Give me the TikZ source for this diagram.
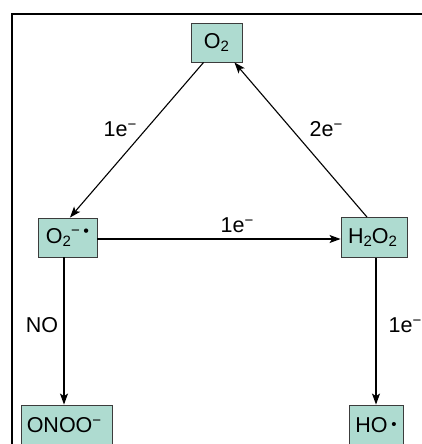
\documentclass[tikz,border=0pt]{standalone}
\usepackage{fontspec}
\setmainfont{Liberation Sans}
\usetikzlibrary{arrows.meta,calc}
\definecolor{boxfill}{RGB}{174,219,208}
\definecolor{boxline}{RGB}{60,60,60}
% raised minus sign for charges and electrons
\newcommand{\chemminus}{\raisebox{0.62ex}{\fontsize{15}{15}\selectfont\char"2212}}
\newcommand{\chemsub}[1]{\raisebox{-0.35ex}{\fontsize{15}{15}\selectfont #1}}
\tikzset{
  species/.style={draw=boxline, line width=0.9pt, fill=boxfill, inner sep=0pt,
    font=\fontsize{21.5}{25}\selectfont},
  rxn/.style={line width=1.1pt, -{Stealth[length=11pt,width=8pt,inset=2.5pt]}},
  elabel/.style={font=\fontsize{21.5}{25}\selectfont, inner sep=0pt}
}
\begin{document}
\begin{tikzpicture}[x=1pt,y=-1pt]
\useasboundingbox (0,0) rectangle (422,444);
% open frame along the top and left
\draw[line width=2.2pt] (12,460) -- (12,14) -- (440,14);

% species
\node[species, minimum width=51pt, minimum height=39pt] (o2) at (216.5,42.5) {O\chemsub{2}};
\node[species, minimum width=59pt, minimum height=39pt] (sup) at (67.5,237.5) {O\chemsub{2}\chemminus\,\raisebox{0.55ex}{\scalebox{0.75}{\textbullet}}};
\node[species, minimum width=66pt, minimum height=40pt] (h2o2) at (374,237.5) {H\chemsub{2}O\chemsub{2}\hspace*{3pt}};
\node[species, minimum width=91pt, minimum height=40pt] (onoo) at (66.5,425) {ONOO\chemminus\hspace*{5pt}};
\node[species, minimum width=54pt, minimum height=40pt] (ho) at (376,425) {HO\,\raisebox{0.25ex}{\scalebox{0.7}{\textbullet}}};

% reactions
\draw[rxn] (o2.237) -- (sup.83);
\draw[rxn] (h2o2.109) -- (o2.312);
\draw[rxn] (sup.east |- 0,239) -- (h2o2.west |- 0,239);
\draw[rxn] ([xshift=-3.5pt]sup.south) -- ([xshift=-3.5pt]sup.south |- onoo.north);
\draw[rxn] (ho.north |- h2o2.south) -- (ho.north);

% electron / reagent labels
\node[elabel] (l1) at (120,129) {1e\chemminus};
\node[elabel] (l2) at (326,129) {2e\chemminus};
\node[elabel] (l3) at (237,225) {1e\chemminus};
\node[elabel] (l4) at (42,325) {NO};
\node[elabel] (l5) at (405,325) {1e\chemminus};
\end{tikzpicture}
\end{document}
